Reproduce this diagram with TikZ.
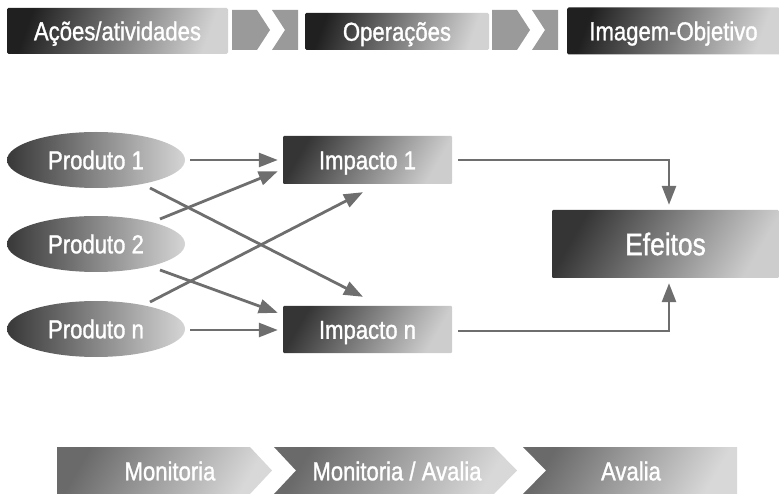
\documentclass[tikz,border=0pt]{standalone}
\usepackage{fontspec}
\setmainfont{Liberation Sans}[FakeStretch=0.85,FakeBold=1.2]
\usetikzlibrary{shapes.geometric,arrows.meta,calc}
\definecolor{arr}{HTML}{6E6E6E}
\definecolor{chev}{HTML}{9A9A9A}
\definecolor{dkA}{HTML}{202020}
\definecolor{ltA}{HTML}{D2D2D2}
\definecolor{dkB}{HTML}{353535}
\definecolor{ltB}{HTML}{CDCDCD}
\definecolor{dkE}{HTML}{383838}
\definecolor{ltE}{HTML}{D5D5D5}
\definecolor{dkC}{HTML}{6A6A6A}
\definecolor{ltC}{HTML}{D8D8D8}
\begin{document}
\begin{tikzpicture}[x=1pt,y=-1pt,
  txt/.style={text=white, font=\fontsize{26}{31}\selectfont, text height=18.6pt, text depth=0pt, inner sep=0pt},
  bigtxt/.style={text=white, font=\fontsize{31}{37}\selectfont, text height=22.2pt, text depth=0pt, inner sep=0pt},
  topbox/.style={rectangle, rounded corners=1.5pt, top color=dkA, bottom color=ltA, shading angle=70, txt},
  impbox/.style={rectangle, rounded corners=1pt, top color=dkB, bottom color=ltB, shading angle=60, txt},
  prod/.style={ellipse, minimum width=178pt, minimum height=56pt, left color=dkE, right color=ltE, txt},
  chevpiece/.style={fill=chev},
  stepshape/.style={top color=dkC, bottom color=ltC, shading angle=60},
  conn/.style={draw=arr, line width=2.8pt, -{Triangle[length=19pt,width=14pt]}}]
\useasboundingbox (0,0) rectangle (779,494);
\clip (0,0) rectangle (779,494);

% top row
\node[topbox, minimum width=221pt, minimum height=46pt] (b1) at (117.5,31) {Ações/atividades};
\node[topbox, minimum width=184pt, minimum height=37pt] (b2) at (397,31.5) {Operações};
\node[topbox, minimum width=213pt, minimum height=47pt] (b3) at (673.5,31) {Imagem-Objetivo};
\fill[chevpiece] (232,10) -- (257,10) -- (270,30) -- (257,50) -- (232,50) -- cycle;
\fill[chevpiece] (272,10) -- (298,10) -- (298,50) -- (272,50) -- (285,30) -- cycle;
\fill[chevpiece] (492,10) -- (517,10) -- (530,30) -- (517,50) -- (492,50) -- cycle;
\fill[chevpiece] (532,10) -- (558,10) -- (558,50) -- (532,50) -- (545,30) -- cycle;

% middle
\node[prod] (p1) at (96,160) {Produto 1};
\node[prod] (p2) at (96,244) {Produto 2};
\node[prod] (pn) at (96,329) {Produto n};
\node[impbox, minimum width=169pt, minimum height=48pt] (i1) at (367.5,160) {Impacto 1};
\node[impbox, minimum width=169pt, minimum height=47pt] (in) at (367.5,329.5) {Impacto n};
\node[impbox, bigtxt, minimum width=227pt, minimum height=68pt] (ef) at (665.5,244) {Efeitos};

\draw[conn] ($(p1.east)+(5,0)$) -- ($(i1.west)+(-5,0)$);
\draw[conn] ($(pn.east)+(5,1)$) -- ($(in.west)+(-5,0.5)$);
\draw[conn] ($(p1.center)+(54,28)$) -- ($(in.north)+(-4.5,-9)$);
\draw[conn] ($(p2.center)+(64,-25)$) -- ($(i1.south west)+(-5,-13)$);
\draw[conn] ($(p2.center)+(64,26)$) -- ($(in.north west)+(-5,7)$);
\draw[conn] ($(pn.center)+(54,-27)$) -- ($(i1.south)+(-4.5,8)$);
\draw[conn] ($(i1.east)+(6,0)$) -| ($(ef.north)+(3.5,-5)$);
\draw[conn] ($(in.east)+(6,1.5)$) -| ($(ef.south)+(3.5,5)$);

% bottom row
\shade[stepshape] (57,447) -- (250,447) -- (272,470.5) -- (250,494) -- (57,494) -- cycle;
\shade[stepshape] (274,447) -- (494,447) -- (517,470.5) -- (494,494) -- (274,494) -- (296,470.5) -- cycle;
\shade[stepshape] (523,447) -- (737,447) -- (737,494) -- (523,494) -- (546,470.5) -- cycle;
\node[txt] (m1) at (170,471) {Monitoria};
\node[txt] (m2) at (397,471) {Monitoria / Avalia};
\node[txt] (m3) at (631,471) {Avalia};
\end{tikzpicture}
\end{document}
